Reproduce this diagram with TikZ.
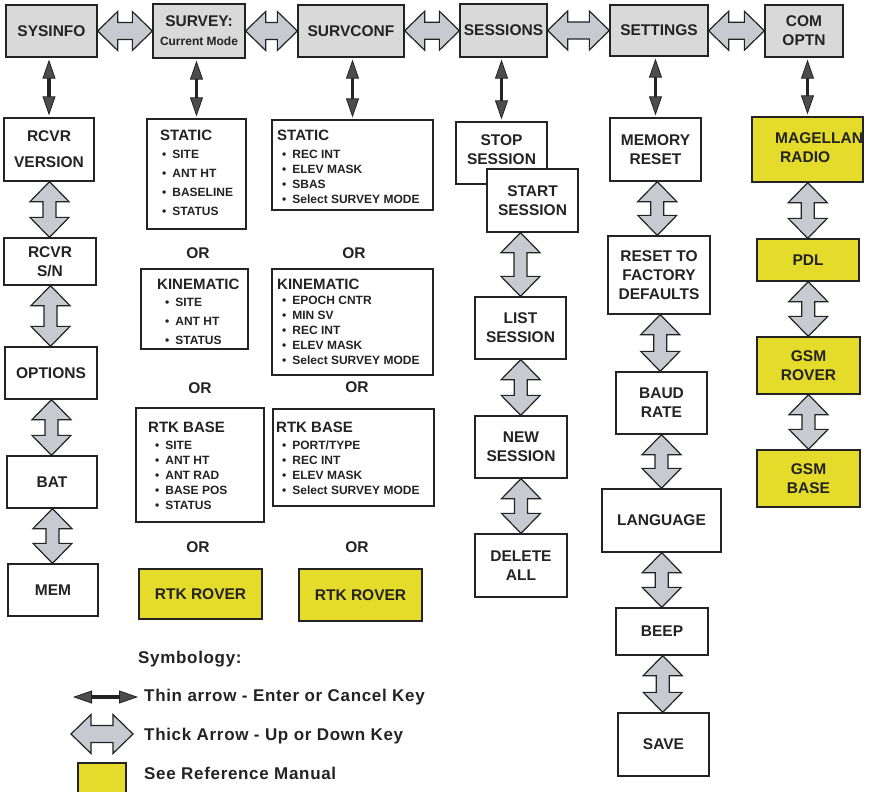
\documentclass[tikz,border=0pt]{standalone}
\usepackage{fontspec}
\setmainfont{Liberation Sans}
\newfontfamily\legendfamily[LetterSpace=4]{Liberation Sans}
\usetikzlibrary{arrows.meta,calc}

\definecolor{boxgray}{RGB}{217,217,217}
\definecolor{keygray}{RGB}{199,203,209}
\definecolor{refyellow}{RGB}{229,219,43}
\definecolor{ink}{RGB}{35,35,35}

\newcommand\labelfont{\bfseries\fontsize{15.5}{19}\selectfont}
\newcommand\titlefont{\bfseries\fontsize{15}{15}\selectfont}
\newcommand\itemfont{\bfseries\fontsize{12}{15}\selectfont}
\newcommand\blt{\textbullet\hspace{6pt}}

% thick up/down key between two points
\newcommand\vkey[2]{%
  \draw[keyarrow] let \p1=#1, \p2=#2, \p3=($#1!0.5!#2$) in
    (\x3,\y1) -- (\x3+19.5pt,\y1-20pt) -- (\x3+6.5pt,\y1-20pt) -- (\x3+6.5pt,\y2+20pt)
    -- (\x3+19.5pt,\y2+20pt) -- (\x3,\y2) -- (\x3-19.5pt,\y2+20pt) -- (\x3-6.5pt,\y2+20pt)
    -- (\x3-6.5pt,\y1-20pt) -- (\x3-19.5pt,\y1-20pt) -- cycle;}
% thick left/right key
\newcommand\hkey[2]{%
  \draw[keyarrow] let \p1=#1, \p2=#2, \p3=($#1!0.5!#2$) in
    (\x1,\y3) -- (\x1+20pt,\y3+19.5pt) -- (\x1+20pt,\y3+8.5pt) -- (\x2-20pt,\y3+8.5pt)
    -- (\x2-20pt,\y3+19.5pt) -- (\x2,\y3) -- (\x2-20pt,\y3-19.5pt) -- (\x2-20pt,\y3-8.5pt)
    -- (\x1+20pt,\y3-8.5pt) -- (\x1+20pt,\y3-19.5pt) -- cycle;}

\tikzset{
  menubox/.style={draw=ink, line width=1.3pt, fill=white, text=ink, align=center,
    inner sep=0pt, font=\labelfont},
  topbox/.style={menubox, fill=boxgray},
  refbox/.style={menubox, fill=refyellow},
  keyarrow/.style={draw=ink, line width=1.2pt, fill=keygray},
  thinkey/.style={draw=ink, line width=3.5pt, shorten <=2pt, shorten >=2pt,
    {Triangle[length=19pt,width=13pt,line width=0.8pt,fill=black!70]}-{Triangle[length=19pt,width=13pt,line width=0.8pt,fill=black!70]}},
  ornode/.style={font=\labelfont, text=ink, inner sep=0pt},
  itemlist/.style={anchor=north west, align=left, inner sep=0pt, text=ink, font=\itemfont},
  legendtext/.style={anchor=west, inner sep=0pt, text=ink,
    font=\legendfamily\bfseries\fontsize{17}{19}\selectfont},
}

\begin{document}
\begin{tikzpicture}[x=1pt,y=-1pt]
\useasboundingbox (0,0) rectangle (870,792);
\fill[white] (0,0) rectangle (870,792);

% top menu row
\node[topbox, minimum width=91pt, minimum height=52pt] (sysinfo) at (51.5,31) {SYSINFO};
\node[topbox, minimum width=92pt, minimum height=54pt] (survey) at (199,31) {SURVEY:\\{\fontsize{12}{14}\selectfont Current Mode}};
\node[topbox, minimum width=106pt, minimum height=52pt] (survconf) at (351,31) {SURVCONF};
\node[topbox, minimum width=87pt, minimum height=53pt] (sessions) at (503.5,30.5) {SESSIONS};
\node[topbox, minimum width=98pt, minimum height=51pt] (settings) at (659,30.5) {SETTINGS};
\node[topbox, minimum width=78pt, minimum height=52pt] (comoptn) at (804,31) {COM\\OPTN};

% sysinfo column
\node[menubox, minimum width=90pt, minimum height=63pt] (rcvrver) at (49,149.5) {RCVR\\[7pt]VERSION};
\node[menubox, minimum width=92pt, minimum height=47pt] (rcvrsn) at (50,261.5) {RCVR\\S/N};
\node[menubox, minimum width=92pt, minimum height=52pt] (options) at (51,373) {OPTIONS};
\node[menubox, minimum width=90pt, minimum height=52pt] (bat) at (52,482) {BAT};
\node[menubox, minimum width=90pt, minimum height=52pt] (mem) at (53,590) {MEM};

% survey column
\node[menubox, minimum width=99pt, minimum height=110pt] (svstatic) at (196.5,174) {};
\node[itemlist] (svstatictxt) at (160,129.5) {{\titlefont STATIC}\\[3pt]
  \hspace{2pt}\blt SITE\\[4pt] \hspace{2pt}\blt ANT HT\\[4pt]
  \hspace{2pt}\blt BASELINE\\[4pt] \hspace{2pt}\blt STATUS};
\node[ornode] (or1) at (198,253) {OR};
\node[menubox, minimum width=107pt, minimum height=80pt] (svkin) at (194.5,309) {};
\node[itemlist] (svkintxt) at (157,278.5) {{\titlefont KINEMATIC}\\[2pt]
  \hspace{8pt}\blt SITE\\[4pt] \hspace{8pt}\blt ANT HT\\[4pt] \hspace{8pt}\blt STATUS};
\node[ornode] (or2) at (200,388) {OR};
\node[menubox, minimum width=128pt, minimum height=114pt] (svbase) at (200,465) {};
\node[itemlist] (svbasetxt) at (148,421.5) {{\titlefont RTK BASE}\\[2pt]
  \hspace{7pt}\blt SITE\\ \hspace{7pt}\blt ANT HT\\ \hspace{7pt}\blt ANT RAD\\
  \hspace{7pt}\blt BASE POS\\ \hspace{7pt}\blt STATUS};
\node[ornode] (or3) at (198,547) {OR};
\node[refbox, minimum width=123pt, minimum height=50pt] (svrover) at (200.5,594) {RTK ROVER};

% survconf column
\node[menubox, minimum width=161pt, minimum height=90pt] (scstatic) at (352.5,165) {};
\node[itemlist] (scstatictxt) at (277,129.5) {{\titlefont STATIC}\\[3pt]
  \hspace{5pt}\blt REC INT\\ \hspace{5pt}\blt ELEV MASK\\ \hspace{5pt}\blt SBAS\\
  \hspace{5pt}\blt Select SURVEY MODE};
\node[ornode] (or4) at (354,253) {OR};
\node[menubox, minimum width=161pt, minimum height=106pt] (sckin) at (352.5,322) {};
\node[itemlist] (sckintxt) at (277,278.5) {{\titlefont KINEMATIC}\\
  \hspace{5pt}\blt EPOCH CNTR\\ \hspace{5pt}\blt MIN SV\\ \hspace{5pt}\blt REC INT\\
  \hspace{5pt}\blt ELEV MASK\\ \hspace{5pt}\blt Select SURVEY MODE};
\node[ornode] (or5) at (357,387) {OR};
\node[menubox, minimum width=161pt, minimum height=97pt] (scbase) at (353.5,457.5) {};
\node[itemlist] (scbasetxt) at (276,421.5) {{\titlefont RTK BASE}\\[2pt]
  \hspace{6pt}\blt PORT/TYPE\\ \hspace{6pt}\blt REC INT\\ \hspace{6pt}\blt ELEV MASK\\
  \hspace{6pt}\blt Select SURVEY MODE};
\node[ornode] (or6) at (357,547) {OR};
\node[refbox, minimum width=123pt, minimum height=52pt] (scrover) at (360.5,595) {RTK ROVER};

% sessions column
\node[menubox, minimum width=91pt, minimum height=62pt] (stop) at (501.5,153) {};
\node[font=\labelfont, text=ink, align=center, inner sep=0pt] (stoptxt) at (501.5,150) {STOP\\SESSION};
\node[menubox, minimum width=91pt, minimum height=63pt] (start) at (532.5,200.5) {START\\SESSION};
\node[menubox, minimum width=91pt, minimum height=62pt] (list) at (520.5,328) {LIST\\SESSION};
\node[menubox, minimum width=92pt, minimum height=62pt] (new) at (521,447) {NEW\\SESSION};
\node[menubox, minimum width=92pt, minimum height=63pt] (delall) at (521,565.5) {DELETE\\ALL};

% settings column
\node[menubox, minimum width=91pt, minimum height=63pt] (memreset) at (655.5,149.5) {MEMORY\\RESET};
\node[menubox, minimum width=102pt, minimum height=78pt] (factory) at (659,275) {RESET TO\\FACTORY\\DEFAULTS};
\node[menubox, minimum width=91pt, minimum height=62pt] (baud) at (661.5,403) {BAUD\\RATE};
\node[menubox, minimum width=119pt, minimum height=63pt] (language) at (661.5,520.5) {LANGUAGE};
\node[menubox, minimum width=92pt, minimum height=47pt] (beep) at (662,631.5) {BEEP};
\node[menubox, minimum width=91pt, minimum height=63pt] (save) at (663.5,744.5) {SAVE};

% com optn column
\node[refbox, minimum width=111pt, minimum height=65pt] (magellan) at (807.5,149.5) {};
\node[font=\labelfont, text=ink, align=left, anchor=west, inner sep=0pt] (magellantxt) at (775,147.5) {MAGELLAN\\\hspace{5pt}RADIO};
\node[refbox, minimum width=102pt, minimum height=42pt] (pdl) at (808,260) {PDL};
\node[refbox, minimum width=103pt, minimum height=57pt] (gsmrover) at (808.5,365.5) {GSM\\ROVER};
\node[refbox, minimum width=103pt, minimum height=57pt] (gsmbase) at (808.5,478.5) {GSM\\BASE};

% enter/cancel keys
\draw[thinkey] (rcvrver.north |- sysinfo.south) -- (rcvrver.north);
\draw[thinkey] (svstatic.north |- survey.south) -- (svstatic.north);
\draw[thinkey] (scstatic.north |- survconf.south) -- (scstatic.north);
\draw[thinkey] (stop.north |- sessions.south) -- (stop.north);
\draw[thinkey] (memreset.north |- settings.south) -- (memreset.north);
\draw[thinkey] (magellan.north |- comoptn.south) -- (magellan.north);

% up/down and left/right keys
\foreach \a/\b in {sysinfo/survey, survey/survconf, survconf/sessions, sessions/settings, settings/comoptn}
  \hkey{(\a.east)}{(\b.west)};
\foreach \a/\b in {rcvrver/rcvrsn, rcvrsn/options, options/bat, bat/mem,
    list/new, new/delall, memreset/factory, factory/baud, baud/language,
    language/beep, beep/save, magellan/pdl, pdl/gsmrover, gsmrover/gsmbase}
  \vkey{(\a.south)}{(\b.north)};
\vkey{(list.north |- start.south)}{(list.north)}

% symbology
\node[legendtext] (symb) at (138,659) {Symbology:};
\coordinate (thinA) at (73,697);
\coordinate (thinB) at (138,697);
\draw[thinkey, shorten <=0pt, shorten >=0pt] (thinA) -- (thinB);
\node[legendtext] (thintxt) at (144,697) {Thin arrow - Enter or Cancel Key};
\coordinate (thickA) at (71,734);
\coordinate (thickB) at (133,734);
\hkey{(thickA)}{(thickB)}
\node[legendtext] (thicktxt) at (144,736) {Thick Arrow - Up or Down Key};
\path[draw=ink, fill=refyellow, line width=1.3pt] (78,763) rectangle (126,797);
\node[legendtext] (reftxt) at (144,773) {See Reference Manual};
\end{tikzpicture}
\end{document}
